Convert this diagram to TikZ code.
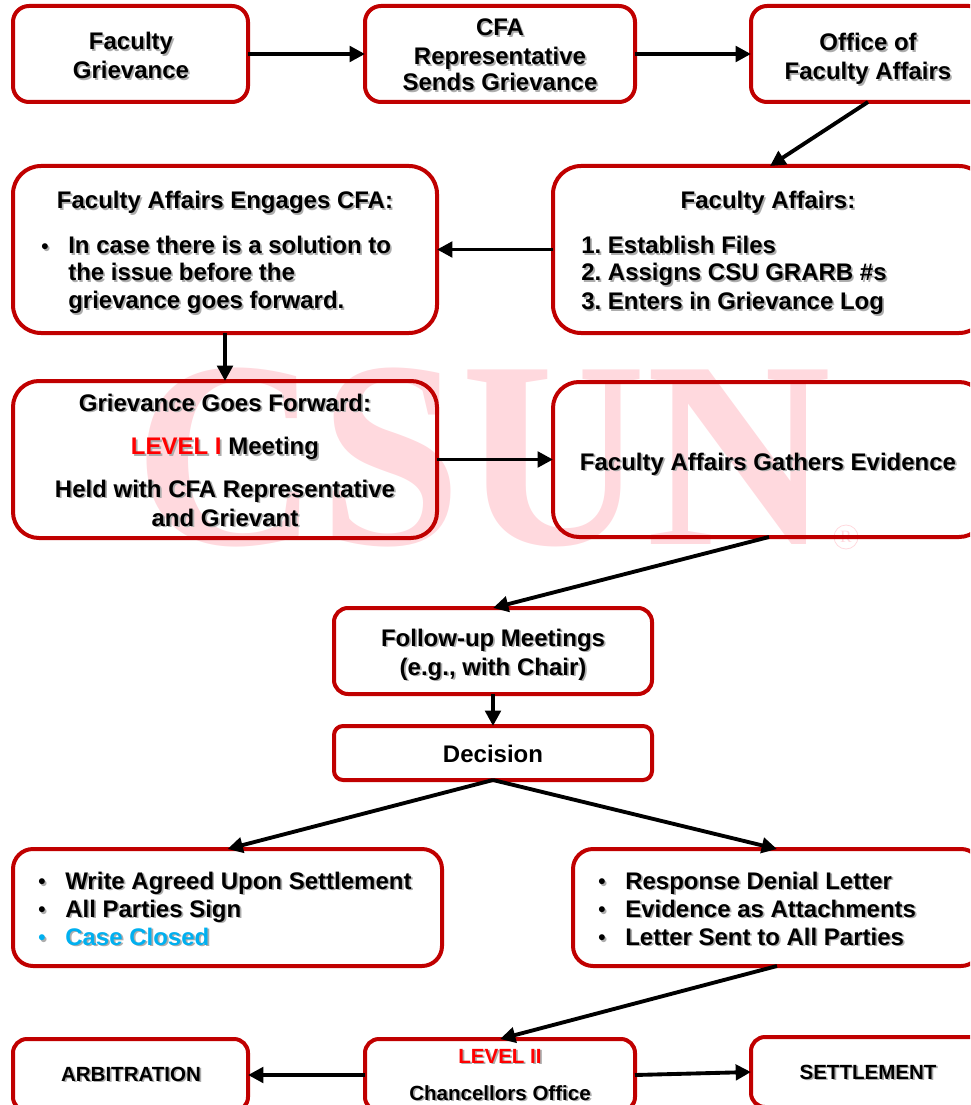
\documentclass[tikz,border=0pt]{standalone}
\usepackage{fontspec}
\setmainfont{Liberation Sans}
\newfontfamily\wmfont{Liberation Serif}
\usetikzlibrary{arrows.meta}
\definecolor{csured}{RGB}{192,0,0}
\definecolor{wmpink}{RGB}{255,217,222}
\definecolor{lvlred}{RGB}{255,0,0}
\definecolor{closedblue}{RGB}{0,176,240}
\newcommand{\shd}[1]{\leavevmode\rlap{\kern1.3pt\raisebox{-1.3pt}{\textcolor{black!32}{#1}}}#1}
\newcommand{\blt}{\fontsize{15.5}{16}\selectfont\raisebox{0.4pt}{\shd{•}}}
\newcommand{\bx}[6]{%
  \pgfmathsetmacro{\bxw}{(#4-#2)*0.75}%
  \pgfmathsetmacro{\bxh}{(#5-#3)*0.75}%
  \pgfmathsetmacro{\bxr}{#6*0.75}%
  \node[flowbox,minimum width=\bxw pt,minimum height=\bxh pt,rounded corners=\bxr pt] (#1) at ({(#2+#4)/2},{(#3+#5)/2}) {};}
\tikzset{
  x=0.75pt,y=-0.75pt,
  flowbox/.style={draw=csured,line width=3pt,rectangle,inner sep=0pt,outer sep=0pt},
  flowarrow/.style={draw=black,line width=2.9pt,-{Triangle[length=11.5pt,width=11.5pt]}},
  lbl/.style={anchor=base,inner sep=0pt,font=\fontsize{18}{20}\selectfont\bfseries\frenchspacing},
  lblleft/.style={lbl,anchor=base west},
  lblsmall/.style={lbl,font=\fontsize{15.4}{18}\selectfont\bfseries},
}
\begin{document}
\begin{tikzpicture}
\useasboundingbox (0,0) rectangle (970,1105);
\clip (0,0) rectangle (970,1105);
\node[anchor=base,inner sep=0pt,text=wmpink,xscale=0.96,font=\wmfont\bfseries\fontsize{200}{210}\selectfont] (wm) at (483,544) {CSUN};
\node[circle,draw=wmpink,line width=0.6pt,minimum size=18pt,inner sep=0pt,text=wmpink,font=\wmfont\fontsize{13}{14}\selectfont] (reg) at (846,537) {R};

\bx{a}{13}{6}{248}{102}{16}
\bx{b}{365}{6}{635}{102}{16}
\bx{c}{751}{6}{985}{102}{16}
\bx{d}{13}{166}{437}{333}{28}
\bx{e}{553}{166}{987}{333}{28}
\bx{f}{13}{381}{437}{538}{26}
\bx{g}{553}{382}{985}{537}{26}
\bx{h}{334}{608}{652}{694}{14}
\bx{i}{334}{726}{652}{780}{9}
\bx{j}{13}{849}{442}{966}{20}
\bx{k}{573}{849}{981}{966}{20}
\bx{l}{13}{1039}{248}{1111}{14}
\bx{m}{365}{1039}{635}{1111}{14}
\bx{n}{751}{1037}{985}{1107}{14}

\coordinate (dout) at (225,333);
\coordinate (fin) at (225,381);
\draw[flowarrow] (a.east) -- (b.west);
\draw[flowarrow] (b.east) -- (c.west);
\draw[flowarrow] (c.south) -- (e.north);
\draw[flowarrow] (e.west) -- (d.east);
\draw[flowarrow] (dout) -- (fin);
\draw[flowarrow] (f.east) -- (g.west);
\draw[flowarrow] (g.south) -- (h.north);
\draw[flowarrow] (h.south) -- (i.north);
\draw[flowarrow] (i.south) -- (j.north);
\draw[flowarrow] (i.south) -- (k.north);
\draw[flowarrow] (k.south) -- (m.north);
\draw[flowarrow] (m.west) -- (l.east);
\draw[flowarrow] (m.east) -- (n.west);

\node[lbl] (a1) at (131,50) {\shd{Faculty}};
\node[lbl] (a2) at (131,79) {\shd{Grievance}};
\node[lbl] (b1) at (500,36) {\shd{CFA}};
\node[lbl] (b2) at (500,65) {\shd{Representative}};
\node[lbl] (b3) at (500,91) {\shd{Sends Grievance}};
\node[lbl] (c1) at (868,51) {\shd{Office of}};
\node[lbl] (c2) at (868,80) {\shd{Faculty Affairs}};

\node[lbl] (d0) at (225,209) {\shd{Faculty Affairs Engages CFA:}};
\node[lblleft] (d1b) at (41,254) {\blt};
\node[lblleft] (d1) at (68,254) {\shd{In case there is a solution to}};
\node[lblleft] (d2) at (68,281) {\shd{the issue before the}};
\node[lblleft] (d3) at (68,309) {\shd{grievance goes forward.}};

\node[lbl] (e0) at (768,209) {\shd{Faculty Affairs:}};
\node[lblleft] (e1) at (581,254) {\shd{1. Establish Files}};
\node[lblleft] (e2) at (581,281) {\shd{2. Assigns CSU GRARB \#s}};
\node[lblleft] (e3) at (581,310) {\shd{3. Enters in Grievance Log}};

\node[lbl] (f0) at (225,411) {\shd{Grievance Goes Forward:}};
\node[lbl] (f1) at (225,454.5) {\textcolor{lvlred}{\shd{LEVEL I}} \shd{Meeting}};
\node[lbl] (f2) at (225,497) {\shd{Held with CFA Representative}};
\node[lbl] (f3) at (225,526) {\shd{and Grievant}};

\node[lbl] (g0) at (768,470) {\shd{Faculty Affairs Gathers Evidence}};
\node[lbl] (h1) at (493,646) {\shd{Follow-up Meetings}};
\node[lbl] (h2) at (493,675) {\shd{(e.g., with Chair)}};
\node[lbl] (i0) at (493,762) {Decision};

\node[lblleft] (j1b) at (38,889) {\blt};
\node[lblleft] (j1) at (65,889) {\shd{Write Agreed Upon Settlement}};
\node[lblleft] (j2b) at (38,917) {\blt};
\node[lblleft] (j2) at (65,917) {\shd{All Parties Sign}};
\node[lblleft,text=closedblue] (j3b) at (38,945) {\blt};
\node[lblleft,text=closedblue] (j3) at (65,945) {\shd{Case Closed}};

\node[lblleft] (k1b) at (598,889) {\blt};
\node[lblleft] (k1) at (625,889) {\shd{Response Denial Letter}};
\node[lblleft] (k2b) at (598,917) {\blt};
\node[lblleft] (k2) at (625,917) {\shd{Evidence as Attachments}};
\node[lblleft] (k3b) at (598,945) {\blt};
\node[lblleft] (k3) at (625,945) {\shd{Letter Sent to All Parties}};

\node[lblsmall] (l0) at (131,1081) {\shd{ARBITRATION}};
\node[lblsmall] (m1) at (500,1063) {\textcolor{lvlred}{\shd{LEVEL II}}};
\node[lblsmall] (m2) at (500,1100) {\shd{Chancellors Office}};
\node[lblsmall] (n0) at (868,1079) {\shd{SETTLEMENT}};
\end{tikzpicture}
\end{document}
